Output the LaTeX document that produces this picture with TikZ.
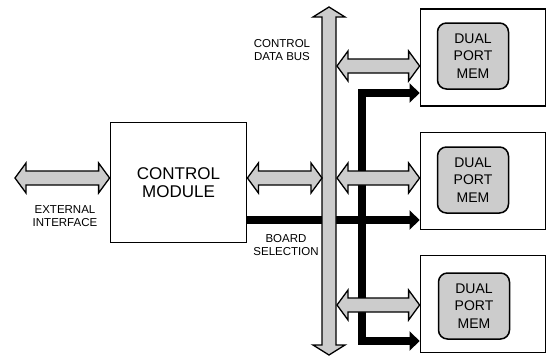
\documentclass[tikz,border=0pt]{standalone}
\usepackage{fontspec}
\setmainfont{Liberation Sans}
\usetikzlibrary{arrows.meta,calc}

% wide hollow bus arrows, drawn between two named points
\newcommand{\dbarrow}[2]{%
  \path[busfill] let \p1=(#1), \p2=(#2) in
    (\x1,\y1) -- ++(11pt,15pt) -- ++(0,-8pt) -- (\x2-11pt,\y1+7pt) -- ++(0,8pt)
    -- (\x2,\y1) -- ++(-11pt,-15pt) -- ++(0,8pt) -- (\x1+11pt,\y1-7pt) -- ++(0,-8pt) -- cycle;}
\newcommand{\vbarrow}[2]{%
  \path[busfill] let \p1=(#1), \p2=(#2) in
    (\x1,\y1) -- ++(-16pt,-10pt) -- ++(9pt,0) -- (\x1-7pt,\y2+10pt) -- ++(-9pt,0)
    -- (\x1,\y2) -- ++(16pt,10pt) -- ++(-9pt,0) -- (\x1+7pt,\y1-10pt) -- ++(9pt,0) -- cycle;}

\begin{document}
\begin{tikzpicture}[x=1pt,y=-1pt,
    busfill/.style={draw,line width=1.3pt,fill=black!20,line join=miter},
    board/.style={draw,line width=1.8pt,minimum width=125pt,minimum height=97pt},
    memory/.style={draw,line width=1.5pt,fill=black!20,rounded corners=9pt,
      minimum width=71pt,minimum height=66pt,align=center,
      font=\fontsize{14}{17.5}\selectfont},
    label/.style={align=center,font=\fontsize{11.5}{13.5}\selectfont},
    selhead/.tip={Triangle[length=10pt,width=19pt]},
    sel/.style={line width=8pt,-selhead}]
  \useasboundingbox (0,0) rectangle (548,356);

  \node[draw,line width=1.8pt,minimum width=136pt,minimum height=120pt,align=center,
    font=\fontsize{17}{18.5}\selectfont] (ctrl) at (178.5,182.5) {CONTROL\\MODULE};

  \node[board] (mem1) at (483,57.5) {};
  \node[board] (mem2) at (483,181) {};
  \node[board] (mem3) at (483,304) {};
  \node[memory] (dp1) at (473,56) {DUAL\\PORT\\MEM};
  \node[memory] (dp2) at (473,180) {DUAL\\PORT\\MEM};
  \node[memory] (dp3) at (474,306) {DUAL\\PORT\\MEM};

  \coordinate (busT) at (329,7);
  \coordinate (busB) at (329,355);
  \coordinate (bl) at (322,0);
  \coordinate (br) at (336,0);
  \coordinate (ext) at (15,178);
  \coordinate (a1) at (337,66);
  \coordinate (a2) at (337,178);
  \coordinate (a3) at (337,305);
  \coordinate (s2) at (0,220);
  \coordinate (j) at (362,93);
  \coordinate (k) at (362,341);

  % board selection
  \draw[sel] (ctrl.east |- s2) -- (s2 -| mem2.west);
  \draw[sel,selhead-selhead] (j -| mem1.west) -- (j) -- (k) -- (k -| mem3.west);

  % control data bus
  \vbarrow{busT}{busB}
  \dbarrow{ext}{ext -| ctrl.west}
  \dbarrow{ctrl.east |- ext}{bl |- ext}
  \dbarrow{a1}{a1 -| mem1.west}
  \dbarrow{a2}{a2 -| mem2.west}
  \dbarrow{a3}{a3 -| mem3.west}

  \node[label] (bus) at (282,50) {CONTROL\\DATA BUS};
  \node[label] (extif) at (65,216) {EXTERNAL\\INTERFACE};
  \node[label] (bsel) at (286,245) {BOARD\\SELECTION};
\end{tikzpicture}
\end{document}
